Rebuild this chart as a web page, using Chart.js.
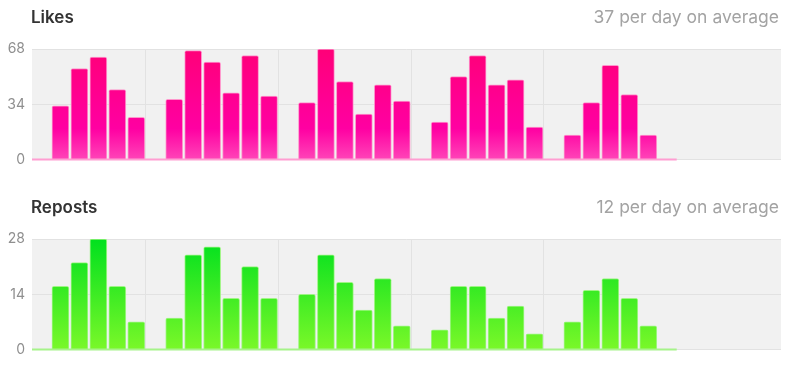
<!DOCTYPE html>
<html><head><meta charset="utf-8">
<script src="https://cdn.jsdelivr.net/npm/chart.js@4/dist/chart.umd.min.js"></script>
<style>
html,body{margin:0;padding:0;background:#fff;}
body{width:788px;height:365px;overflow:hidden;position:relative;font-family:Inter, Roboto, sans-serif;}
.t{position:absolute;left:31px;font-size:17px;line-height:20px;font-weight:600;color:#333;z-index:2;}
.a{position:absolute;right:9px;font-size:17.5px;line-height:20px;color:#a3a3a3;z-index:2;}
canvas{position:absolute;left:0;}
</style></head><body>
<div class="t" id="t0" style="top:6.5px"></div>
<div class="a" id="a0" style="top:6.5px"></div>
<canvas id="c0" width="788" height="175" style="top:0px"></canvas>
<div class="t" id="t1" style="top:196.5px"></div>
<div class="a" id="a1" style="top:196.5px"></div>
<canvas id="c1" width="788" height="175" style="top:190px"></canvas>
<script>
// ---- data ----
const titles = ['Likes', 'Reposts'];
const averages = ['37 per day on average', '12 per day on average'];
// one value per day (day index 0..33); zero days have no bar
const likes   = [0,33,56,63,43,26, 0,37,67,60,41,64,39, 0,35,68,48,28,46,36, 0,23,51,64,46,49,20, 0,15,35,58,40,15, 0];
const reposts = [0,16,22,28,16, 7, 0, 8,24,26,13,21,13, 0,14,24,17,10,18, 6, 0, 5,16,16, 8,11, 4, 0, 7,15,18,13, 6, 0];
const likesTicks = [0, 34, 68];
const repostsTicks = [0, 14, 28];
// days starting each week (vertical grid lines sit at their left edge)
const weekStartDays = [6, 13, 20, 27];
const axisDays = [-0.5, 39];

const bgPlugin = {
  id: 'plotBg',
  beforeDraw(chart) {
    const {ctx, chartArea: a} = chart;
    ctx.save();
    ctx.fillStyle = '#f1f1f1';
    ctx.fillRect(a.left, a.top, a.right - a.left, a.bottom - a.top);
    ctx.restore();
  }
};

function makeChart(id, values, ticks, stops, lineColor, borderColor, padBottom) {
  const pts = values.map((v, i) => ({x: i, y: v}));
  const base = [{x: -0.5, y: 0}, {x: values.length - 0.5, y: 0}];
  return new Chart(document.getElementById(id), {
    type: 'bar',
    data: {
      datasets: [
        {
          type: 'line', data: base, borderColor: lineColor, borderWidth: 2,
          pointRadius: 0, order: 0, clip: false
        },
        {
          type: 'bar', data: pts, order: 1,
          barThickness: 17, borderWidth: 1, borderColor: borderColor,
          borderRadius: {topLeft: 2, topRight: 2}, borderSkipped: 'bottom',
          backgroundColor(ctx) {
            const a = ctx.chart.chartArea;
            if (!a) return stops[0][1];
            const g = ctx.chart.ctx.createLinearGradient(0, a.top, 0, a.bottom);
            stops.forEach(s => g.addColorStop(s[0], s[1]));
            return g;
          }
        }
      ]
    },
    options: {
      responsive: false, animation: false,
      layout: {padding: {top: 49, bottom: padBottom, left: 0, right: 7}},
      plugins: {legend: {display: false}, tooltip: {enabled: false}},
      scales: {
        x: {
          type: 'linear', min: axisDays[0], max: axisDays[1], offset: false,
          ticks: {display: false},
          grid: {color: '#e2e2e2', drawTicks: false, lineWidth: 1, offset: false},
          border: {display: false},
          afterBuildTicks(s) { s.ticks = weekStartDays.map(d => ({value: d - 0.5})); },
          afterFit(s) { s.height = 0; }
        },
        y: {
          min: ticks[0], max: ticks[ticks.length - 1],
          ticks: {stepSize: ticks[1] - ticks[0], color: '#8f8f8f', padding: 7,
                  font: {family: 'Inter', size: 14}},
          grid: {color: '#e2e2e2', drawTicks: false},
          border: {display: false},
          afterFit(s) { s.width = 32; }
        }
      }
    },
    plugins: [bgPlugin]
  });
}

document.getElementById('t0').textContent = titles[0];
document.getElementById('a0').textContent = averages[0];
document.getElementById('t1').textContent = titles[1];
document.getElementById('a1').textContent = averages[1];

const c0 = makeChart('c0', likes, likesTicks,
  [[0, '#ff0078'], [0.72, '#ff00a2'], [1, '#ff45b8']], '#ff9ed2', 'rgba(255,140,200,0.9)', 12);
const c1 = makeChart('c1', reposts, repostsTicks,
  [[0, '#00e11e'], [0.35, '#2be822'], [1, '#7af829']], '#a6f38a', 'rgba(150,245,120,0.9)', 13);
</script>
</body></html>
